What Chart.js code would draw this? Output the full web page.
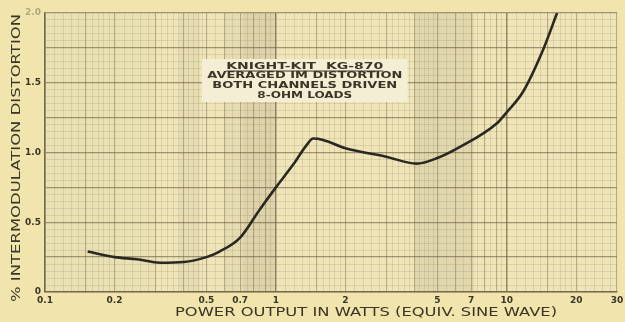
<!DOCTYPE html>
<html>
<head>
<meta charset="utf-8">
<script src="https://cdn.jsdelivr.net/npm/chart.js@4/dist/chart.umd.min.js"></script>
<style>
  html, body { margin: 0; padding: 0; background: #f1e4ac; }
  #wrap { width: 625px; height: 322px; }
</style>
</head>
<body>
<div id="wrap"><canvas id="c" width="625" height="322"></canvas></div>
<script>
// Power output (watts, equivalent sine wave) and averaged IM distortion (%)
const powerWatts = [0.153, 0.2, 0.25, 0.315, 0.4, 0.5, 0.57, 0.7, 0.85, 1.0, 1.19, 1.36, 1.45, 1.6,
                    2.0, 3.0, 4.07, 5.0, 6.27, 9.06, 10, 11.7, 14.3, 16.5];
const imDistortion = [0.29, 0.25, 0.235, 0.21, 0.215, 0.25, 0.29, 0.39, 0.59, 0.75, 0.915, 1.055, 1.10, 1.09,
                      1.03, 0.97, 0.92, 0.96, 1.04, 1.21, 1.29, 1.43, 1.73, 2.0];

// Labelled ticks
const xTickLabels = [0.1, 0.2, 0.5, 0.7, 1, 2, 5, 7, 10, 20, 30];
const yTickLabels = [0, 0.5, 1.0, 1.5, 2.0];

const xTitle = 'POWER OUTPUT IN WATTS (EQUIV. SINE WAVE)';
const yTitle = '% INTERMODULATION DISTORTION';
const boxLines = ['KNIGHT-KIT  KG-870', 'AVERAGED IM DISTORTION', 'BOTH CHANNELS DRIVEN', '8-OHM LOADS'];

const INK = '#3a3526';
const PAPER = '#efe5b8';

// Log-paper rulings: fine steps per decade
function logRulings(min, max) {
  const out = [];
  for (let d = 0.1; d < max * 1.0001; d *= 10) {
    const steps = [];
    for (let m = 1.0; m < 2.0001; m += 0.1) steps.push(m);
    for (let m = 2.2; m < 5.0001; m += 0.2) steps.push(m);
    for (let m = 5.5; m < 10.0001; m += 0.5) steps.push(m);
    steps.forEach(m => {
      const v = +(m * d).toFixed(6);
      if (v >= min - 1e-9 && v <= max + 1e-9 && !out.includes(v)) out.push(v);
    });
  }
  return out.sort((a, b) => a - b);
}
function mantissa(v) {
  const m = v / Math.pow(10, Math.floor(Math.log10(v) + 1e-9));
  return +m.toFixed(4);
}
function isLabel(list, v) { return list.some(t => Math.abs(t - v) < 1e-6); }

// Wide lettering: stretch text horizontally to a given width
function wideText(ctx, text, x, y, width, rotate) {
  const w = ctx.measureText(text).width;
  ctx.save();
  ctx.translate(x, y);
  if (rotate) ctx.rotate(-Math.PI / 2);
  ctx.scale(width / w, 1);
  ctx.fillText(text, 0, 0);
  ctx.restore();
}

const paperPlugin = {
  id: 'paper',
  beforeDraw(chart) {
    const { ctx, chartArea: a, scales: { x } } = chart;
    ctx.save();
    ctx.fillStyle = '#f1e4ac';
    ctx.fillRect(0, 0, chart.width, chart.height);
    ctx.fillStyle = PAPER;
    ctx.fillRect(a.left, a.top, a.right - a.left, a.bottom - a.top);
    // darker aged bands on the sheet
    const bands = [[0.38, 0.47, 'rgba(120,110,80,0.06)'], [0.6, 0.72, 'rgba(120,110,80,0.07)'],
                   [0.72, 1.0, 'rgba(110,100,75,0.14)'], [4.0, 7.2, 'rgba(110,100,75,0.10)'],
                   [0.1, 0.3, 'rgba(110,100,75,0.04)']];
    bands.forEach(([a0, a1, c]) => {
      const x0 = x.getPixelForValue(a0), x1 = x.getPixelForValue(a1);
      ctx.fillStyle = c;
      ctx.fillRect(x0, a.top, x1 - x0, a.bottom - a.top);
    });
    ctx.restore();
  },
  afterDatasetsDraw(chart) {
    const { ctx, scales: { x, y } } = chart;
    const left = x.getPixelForValue(0.478), right = x.getPixelForValue(3.72);
    const top = y.getPixelForValue(1.67), bottom = y.getPixelForValue(1.362);
    ctx.save();
    ctx.fillStyle = '#f4eed4';
    ctx.fillRect(left, top, right - left, bottom - top);
    const cx = (left + right) / 2;
    ctx.fillStyle = INK;
    ctx.textAlign = 'center';
    ctx.textBaseline = 'middle';
    ctx.font = 'bold 8.5px "DejaVu Sans"';
    const widths = [157, 195, 185, 95];
    boxLines.forEach((t, i) => {
      const ty = top + 7.5 + i * 9.6;
      wideText(ctx, t, cx, ty, widths[i], false);
      if (i === 0) ctx.fillRect(cx - widths[i] / 2, ty + 4, widths[i], 1);
    });
    ctx.restore();
  },
  afterDraw(chart) {
    const { ctx, chartArea: a } = chart;
    ctx.save();
    ctx.fillStyle = INK;
    ctx.textAlign = 'center';
    ctx.textBaseline = 'middle';
    ctx.font = '13px "DejaVu Sans"';
    wideText(ctx, xTitle, 366, a.bottom + 21, 382, false);
    wideText(ctx, yTitle, 16.5, 158, 288, true);
    ctx.restore();
  }
};

const xRulings = logRulings(0.1, 30);

new Chart(document.getElementById('c'), {
  type: 'line',
  data: {
    datasets: [{
      data: powerWatts.map((p, i) => ({ x: p, y: imDistortion[i] })),
      borderColor: '#2a2822',
      borderWidth: 2.6,
      pointRadius: 0,
      fill: false,
      cubicInterpolationMode: 'monotone'
    }]
  },
  options: {
    responsive: false,
    animation: false,
    devicePixelRatio: 1,
    layout: { padding: { top: 13, right: 8, left: 0, bottom: 0 } },
    plugins: { legend: { display: false }, tooltip: { enabled: false } },
    scales: {
      x: {
        type: 'logarithmic',
        min: 0.1,
        max: 30,
        afterBuildTicks(scale) { scale.ticks = xRulings.map(v => ({ value: v })); },
        afterFit(scale) { scale.height = 30; scale.paddingLeft = 0; scale.paddingRight = 0; },
        border: { display: true, color: 'rgba(110,100,70,0.85)', width: 1.5 },
        grid: {
          drawTicks: false,
          color(ctx) {
            const v = ctx.tick && ctx.tick.value; if (v == null) return 'transparent';
            const m = mantissa(v);
            if (m === 1) return 'rgba(105,96,66,0.7)';
            if (Number.isInteger(m) || m === 1.5) return 'rgba(125,115,82,0.5)';
            return 'rgba(140,130,95,0.2)';
          },
          lineWidth(ctx) {
            const v = ctx.tick && ctx.tick.value; if (v == null) return 1;
            const m = mantissa(v);
            if (m === 1) return 1.5;
            if (Number.isInteger(m) || m === 1.5) return 1.1;
            return 1;
          }
        },
        ticks: {
          autoSkip: false,
          maxRotation: 0,
          padding: 3,
          color: INK,
          font: { family: 'DejaVu Sans', size: 9, weight: 'bold' },
          callback(value) {
            if (!isLabel(xTickLabels, value)) return '';
            return String(+value.toFixed(2));
          }
        },
        title: { display: false }
      },
      y: {
        type: 'linear',
        min: 0,
        max: 2.0,
        ticks: {
          stepSize: 0.05,
          autoSkip: false,
          padding: 4,
          color(ctx) { return ctx.tick && Math.abs(ctx.tick.value - 2) < 1e-6 ? 'rgba(58,53,38,0.35)' : INK; },
          font: { family: 'DejaVu Sans', size: 9, weight: 'bold' },
          callback(value) {
            if (!isLabel(yTickLabels, value)) return '';
            return value === 0 ? '0' : value.toFixed(1);
          }
        },
        afterFit(scale) { scale.width = 45; },
        border: { display: true, color: 'rgba(110,100,70,0.85)', width: 1.5 },
        grid: {
          drawTicks: false,
          color(ctx) {
            const v = ctx.tick && ctx.tick.value; if (v == null) return 'transparent';
            const q = Math.round(v * 100);
            if (q % 25 === 0) return 'rgba(115,105,74,0.65)';
            return 'rgba(140,130,95,0.2)';
          },
          lineWidth(ctx) {
            const v = ctx.tick && ctx.tick.value; if (v == null) return 1;
            return Math.round(v * 100) % 25 === 0 ? 1.3 : 1;
          }
        },
        title: { display: false }
      }
    }
  },
  plugins: [paperPlugin]
});
</script>
</body>
</html>
